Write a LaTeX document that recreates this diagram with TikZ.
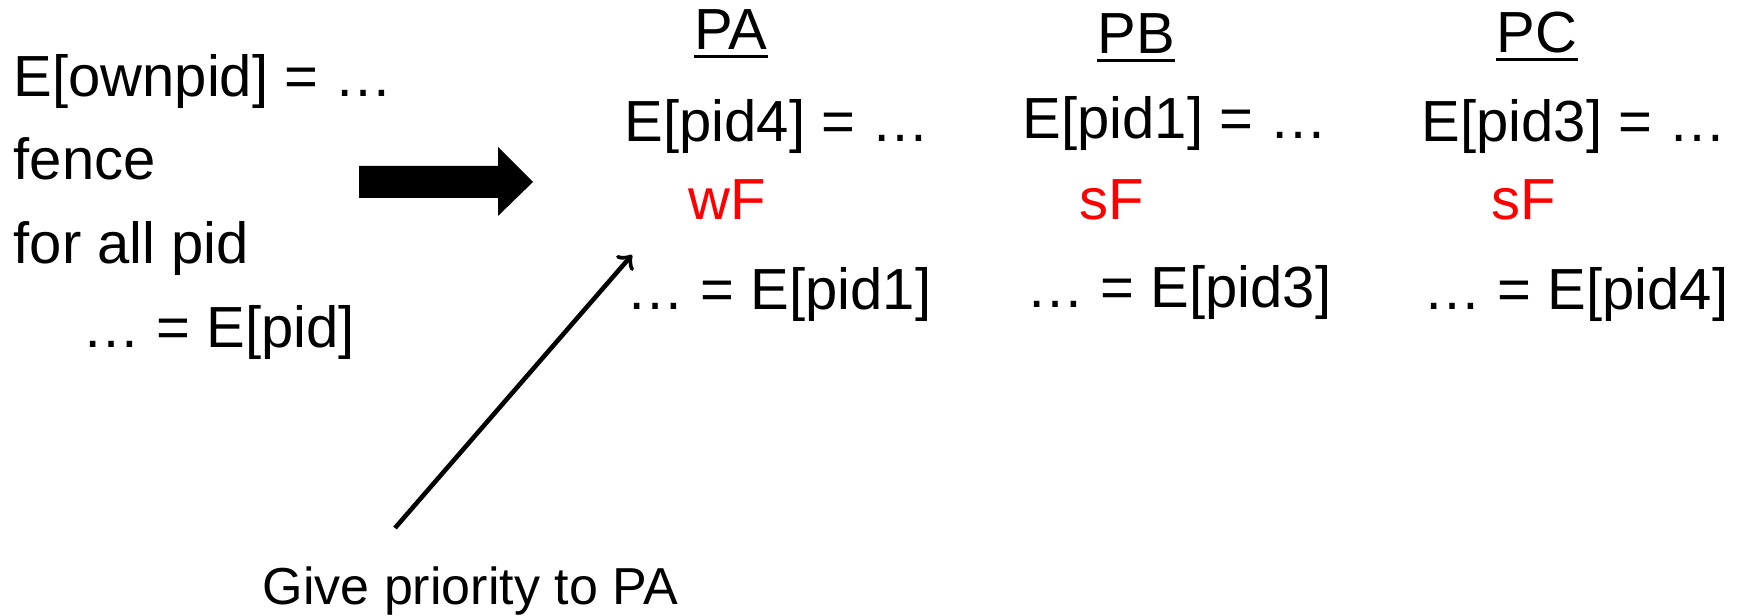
\documentclass[tikz,border=0pt]{standalone}
\usepackage{fontspec}
\setmainfont{Liberation Sans}

\begin{document}
\begin{tikzpicture}[
        code/.style={inner sep=0, anchor=base west, font=\fontsize{16.5pt}{20pt}\selectfont},
        fence/.style={code, text=red},
        proc/.style={inner sep=0, anchor=base, font=\fontsize{16.5pt}{20pt}\selectfont},
        note/.style={inner sep=0, anchor=base west, font=\fontsize{14.8pt}{18pt}\selectfont}
    ]
        \useasboundingbox (0,0) rectangle (17.40,6.16);

        % original code
        \node[code] (own) at (0.13,5.19) {E[ownpid] = …};
        \node[code] (fnc) at (0.13,4.36) {fence};
        \node[code] (for) at (0.13,3.52) {for all pid};
        \node[code] (rd) at (0.82,2.68) {… = E[pid]};

        % big arrow
        \fill (3.59,4.50) -- (4.98,4.50) -- (4.98,4.69) -- (5.33,4.34)
            -- (4.98,4.00) -- (4.98,4.18) -- (3.59,4.18) -- cycle;

        % processes
        \node[proc] (pa) at (7.31,5.66) {PA};
        \draw[line width=0.85pt] ([yshift=-0.07cm]pa.base west) -- ([yshift=-0.07cm]pa.base east);
        \node[proc] (pb) at (11.36,5.62) {PB};
        \draw[line width=0.85pt] ([yshift=-0.07cm]pb.base west) -- ([yshift=-0.07cm]pb.base east);
        \node[proc] (pc) at (15.37,5.63) {PC};
        \draw[line width=0.85pt] ([yshift=-0.07cm]pc.base west) -- ([yshift=-0.07cm]pc.base east);

        \node[code] (wa) at (6.24,4.74) {E[pid4] = …};
        \node[fence] (fa) at (6.88,3.96) {wF};
        \node[code] (ra) at (6.26,3.06) {… = E[pid1]};

        \node[code] (wb) at (10.22,4.77) {E[pid1] = …};
        \node[fence] (fb) at (10.79,3.96) {sF};
        \node[code] (rb) at (10.26,3.08) {… = E[pid3]};

        \node[code] (wc) at (14.21,4.74) {E[pid3] = …};
        \node[fence] (fc) at (14.91,3.96) {sF};
        \node[code] (rc) at (14.23,3.06) {… = E[pid4]};

        % priority note
        \node[note] (prio) at (2.62,0.11) {Give priority to PA};
        \coordinate (tail) at (3.95,0.88);
        \coordinate (tip) at (6.32,3.61);
        \path[draw,line width=1.3pt,->] (tail) -- (tip);
    \end{tikzpicture}
\end{document}
